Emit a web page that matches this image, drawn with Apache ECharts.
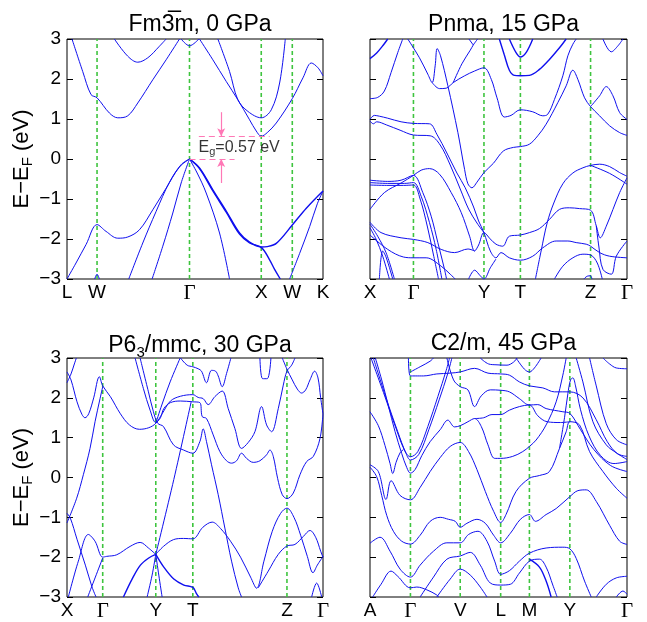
<!DOCTYPE html>
<html>
<head>
<meta charset="utf-8">
<script src="https://cdn.jsdelivr.net/npm/echarts@6/dist/echarts.min.js"></script>
<style>
  html, body { margin: 0; padding: 0; background: #fff; }
  #chart { width: 647px; height: 622px; }
</style>
</head>
<body>
<div id="chart"></div>
<script>
// ---------- Fm-3m, 0 GPa : path L-W-Γ-X-W-K ----------
const fm3mKpts = [0, 0.90, 3.67, 5.82, 6.75, 7.67];
const fm3mKlabels = ['L', 'W', 'Γ', 'X', 'W', 'K'];
const fm3mBands = [
  [[0.15,3.0],[0.47,2.19],[0.72,1.61],[0.90,1.53],[1.27,1.15],[1.52,1.03],[1.82,1.08],[2.12,1.40],[2.57,1.98],[2.97,2.48],[3.37,3.0]],
  [[1.42,3.0],[1.82,2.57],[2.12,2.42],[2.42,2.53],[2.77,2.82],[2.97,3.0]],
  [[3.42,3.0],[3.67,2.83],[3.95,3.0]],
  [[3.97,3.0],[4.37,2.48],[4.77,1.94],[5.12,1.48],[5.47,0.98],[5.67,0.7],[5.82,0.57],[6.0,0.66],[6.27,0.9],[6.75,1.51],[7.07,2.03],[7.32,2.40],[7.52,2.28],[7.67,2.08]],
  [[4.52,3.0],[4.87,2.19],[5.12,1.48],[5.42,1.19],[5.82,1.03],[6.12,1.23],[6.37,1.9],[6.54,3.0]],
  [[0,-3.0],[0.27,-2.6],[0.57,-2.14],[0.90,-1.64],[1.17,-1.81],[1.52,-1.98],[1.82,-1.95],[2.17,-1.77],[2.57,-1.27],[2.97,-0.73],[3.37,-0.2],[3.67,0]],
  [[1.85,-3.0],[2.27,-2.1],[2.67,-1.31],[3.07,-0.58],[3.42,-0.14],[3.67,0]],
  [[2.55,-3.0],[2.87,-2.18],[3.17,-1.35],[3.42,-0.6],[3.67,0]],
  [[3.67,0],[3.9,-0.35],[4.17,-0.85],[4.57,-1.85],[4.87,-3.0]],
  [[3.67,0],[3.97,-0.22],[4.37,-0.77],[4.77,-1.3],[5.17,-1.85],[5.47,-2.08],[5.82,-2.2],[6.0,-2.19],[6.27,-2.11],[6.75,-1.65],[7.17,-1.23],[7.67,-0.8]],
  [[3.67,0],[3.97,-0.24],[4.37,-0.8],[4.77,-1.33],[5.17,-1.88],[5.47,-2.1],[5.82,-2.21],[6.07,-2.52],[6.22,-2.76],[6.39,-3.0]],
  [[6.67,-3.0],[6.97,-2.36],[7.27,-1.69],[7.5,-1.12],[7.67,-0.8]],
  [[0.83,-3.0],[0.90,-2.88],[0.97,-3.0]]
];
const fm3mThick = [9, 10];

// band-gap annotation (eV)
const gapEg = 0.57;
const vbmE = 0;

// ---------- Pnma, 15 GPa : path X-Γ-Y-T-Z-Γ ----------
const pnmaKpts = [0, 1.30, 3.41, 4.50, 6.60, 7.69];
const pnmaKlabels = ['X', 'Γ', 'Y', 'T', 'Z', 'Γ'];
const pnmaBands = [
  [[0,2.51],[0.2,2.65],[0.4,2.85],[0.53,3.0]],
  [[0,1.51],[0.23,1.54],[0.43,1.7],[0.63,2.16],[0.83,2.66],[0.98,3.0]],
  [[1.13,3.0],[1.48,2.53],[1.73,2.12],[1.86,1.91],[1.95,2.33],[2.01,2.76],[2.11,2.58],[2.33,1.83],[2.63,0.66],[2.83,-0.26],[2.93,-0.62],[3.05,-0.72],[3.2,-0.58],[3.41,-0.34],[3.69,-0.11],[3.99,0.2],[4.29,0.29],[4.5,0.31],[4.77,0.37],[5.02,0.58],[5.27,0.87],[5.62,1.41],[5.87,1.83],[6.07,2.22],[6.22,1.99],[6.42,1.53],[6.6,1.31],[6.87,1.08],[7.17,0.83],[7.47,0.66],[7.69,0.59]],
  [[1.86,1.91],[2.08,1.76],[2.28,1.77],[2.49,1.91],[2.83,2.08],[3.13,2.2],[3.41,2.28],[3.63,1.99],[3.8,1.53],[4.02,1.05],[4.22,1.09],[4.5,1.23],[4.87,1.18],[5.17,1.08],[5.32,1.12],[5.52,1.49],[5.77,2.08],[5.92,2.58],[6.07,2.87],[6.17,3.0]],
  [[2.49,1.91],[2.75,2.38],[3.0,2.72],[3.09,2.85],[3.22,3.0]],
  [[2.96,3.0],[3.09,2.85]],
  [[4.17,3.0],[4.37,2.66],[4.5,2.55],[4.67,2.66],[4.87,3.0]],
  [[3.87,3.0],[4.02,2.6],[4.17,2.22],[4.32,2.09],[4.5,2.08],[4.77,2.09],[5.07,2.24],[5.37,2.49],[5.67,2.78],[5.87,3.0]],
  [[6.6,1.31],[6.87,1.58],[7.07,1.81],[7.27,1.58],[7.47,1.16],[7.69,0.99]],
  [[6.97,3.0],[7.22,2.68],[7.42,2.83],[7.57,3.0]],
  [[0,0.99],[0.13,1.09],[0.28,1.07],[0.53,1.02],[0.93,0.93],[1.3,0.89],[1.78,0.88],[2.0,0.62],[2.3,0.15],[2.6,-0.35],[2.85,-0.72],[3.1,-1.2],[3.25,-1.55],[3.41,-1.84],[3.6,-2.3],[3.77,-2.47],[3.92,-2.34],[4.17,-2.47],[4.5,-2.53],[4.87,-2.43],[5.17,-2.22],[5.57,-2.05],[5.92,-2.05],[6.17,-2.09],[6.47,-2.13],[6.6,-2.18],[6.87,-2.34],[7.17,-2.43],[7.69,-2.47]],
  [[0,0.95],[0.1,0.88],[0.2,0.93],[0.5,0.85],[0.9,0.72],[1.3,0.6],[1.8,0.58],[2.1,0.35],[2.4,-0.15],[2.7,-0.75],[2.95,-1.25],[3.2,-1.6],[3.41,-1.84]],
  [[0,-1.26],[0.43,-0.84],[0.93,-0.6],[1.3,-0.41],[1.53,-0.28],[1.78,-0.24],[2.08,-0.38],[2.43,-0.84],[2.73,-1.34],[2.98,-1.93],[3.13,-2.3],[3.25,-2.15],[3.41,-1.84],[3.6,-2.0],[3.77,-2.13],[3.97,-2.18],[4.17,-1.93],[4.5,-1.9],[4.77,-1.84],[5.07,-1.74],[5.37,-1.51],[5.67,-1.26],[5.97,-1.22],[6.27,-1.24],[6.6,-1.28],[6.77,-1.67],[6.89,-1.97],[7.07,-1.68],[7.27,-1.26],[7.47,-0.84],[7.69,-0.47]],
  [[4.95,-3.0],[5.12,-2.3],[5.3,-1.6],[5.5,-1.1],[5.77,-0.62],[6.07,-0.35],[6.37,-0.22],[6.6,-0.16],[6.87,-0.13],[7.17,-0.19],[7.47,-0.34],[7.69,-0.43]],
  [[6.6,-0.16],[7.17,-0.36],[7.69,-0.63]],
  [[0,-0.53],[0.53,-0.56],[0.93,-0.53],[1.3,-0.41],[1.58,-0.84],[1.83,-1.43],[2.03,-2.09],[2.23,-2.76],[2.29,-3.0]],
  [[0,-0.59],[0.53,-0.61],[1.03,-0.61],[1.3,-0.59],[1.53,-0.93],[1.78,-1.59],[1.98,-2.26],[2.15,-3.0]],
  [[0,-0.65],[0.5,-0.66],[1.0,-0.66],[1.3,-0.65],[1.5,-1.0],[1.72,-1.7],[1.9,-2.4],[2.05,-3.0]],
  [[0,-1.63],[0.23,-1.93],[0.48,-2.34],[0.73,-3.0]],
  [[0,-1.72],[0.18,-2.0],[0.38,-2.43],[0.58,-3.0]],
  [[0,-1.58],[0.33,-1.84],[0.93,-1.97],[1.3,-2.01],[1.73,-2.09],[2.13,-2.26],[2.53,-2.34],[2.93,-2.25],[3.13,-2.3]],
  [[0,-1.9],[0.53,-2.26],[1.0,-2.45],[1.3,-2.47],[1.68,-2.47],[2.13,-2.68],[2.4,-2.88],[2.55,-3.0]],
  [[0.28,-3.0],[0.38,-2.3],[0.48,-2.45],[0.68,-3.0]],
  [[2.95,-3.0],[3.13,-2.78],[3.3,-2.92],[3.41,-3.0],[3.6,-2.72],[3.77,-2.5]],
  [[5.52,-3.0],[5.77,-2.68],[6.07,-2.47],[6.37,-2.38],[6.6,-2.4],[6.8,-2.6],[6.95,-3.0]],
  [[6.4,-3.0],[6.5,-2.93],[6.6,-2.92],[6.64,-3.0]],
  [[6.77,-1.67],[6.85,-2.2],[6.97,-2.76],[7.22,-2.88],[7.37,-2.43],[7.69,-2.05]]
];
const pnmaThick = [0, 6, 7];

// ---------- P6_3/mmc, 30 GPa : path X-Γ-Y-T-Z-Γ ----------
const p63Kpts = [0, 1.07, 2.66, 3.77, 6.59, 7.67];
const p63Klabels = ['X', 'Γ', 'Y', 'T', 'Z', 'Γ'];
const p63Bands = [
  [[0,2.65],[0.12,2.45],[0.3,1.9],[0.45,1.58],[0.54,1.5],[0.65,1.6],[0.8,2.0],[0.97,2.53],[1.07,2.3],[1.3,2.03],[1.6,1.6],[1.87,1.32],[2.17,1.21],[2.45,1.25],[2.66,1.36],[2.85,1.6],[3.1,1.92],[3.4,2.04],[3.77,2.08],[3.93,2.01],[4.08,1.98],[4.23,1.83],[4.43,2.03],[4.65,2.17],[4.83,1.73],[5.03,1.23],[5.23,0.73],[5.43,0.88],[5.63,1.15],[5.83,1.78],[5.98,1.32],[6.13,1.15],[6.33,1.73],[6.48,2.32],[6.59,2.67],[6.73,2.82],[6.83,3.0]],
  [[0,2.38],[0.12,2.6],[0.22,2.85],[0.28,3.0]],
  [[2.04,3.0],[2.29,2.23],[2.49,1.69],[2.66,1.38],[2.8,1.5],[2.9,1.73],[3.1,1.88],[3.4,1.92],[3.77,1.9],[3.98,1.88],[4.05,1.53],[4.18,1.48],[4.38,1.07],[4.58,0.65],[4.78,0.42],[4.93,0.36],[5.08,0.42],[5.23,0.61],[5.38,0.48],[5.58,0.38],[5.78,0.42],[5.98,0.57],[6.08,0.69],[6.18,0.53],[6.31,-0.02],[6.45,-0.43],[6.59,-0.53],[6.78,-0.39],[6.98,0.07],[7.18,0.4],[7.38,0.53],[7.58,0.98],[7.67,1.6]],
  [[2.19,3.0],[2.44,2.15],[2.59,1.65],[2.72,1.36],[2.89,1.28],[3.19,0.82],[3.49,0.69],[3.77,0.61],[3.98,0.9],[4.08,1.22],[4.18,0.9],[4.33,0.32],[4.53,-0.43],[4.73,-1.27],[4.93,-2.1],[5.13,-2.77],[5.23,-3.0]],
  [[2.66,1.36],[2.84,1.82],[3.09,2.4],[3.39,3.0]],
  [[6.45,3.0],[6.59,2.72],[6.75,2.45],[6.9,2.22],[7.03,2.12],[7.15,2.2],[7.28,2.45],[7.42,2.67],[7.52,2.5],[7.6,2.0],[7.67,1.6]],
  [[3.4,3.0],[3.6,2.82],[3.77,2.78],[3.93,2.73],[4.03,2.67],[4.18,2.38],[4.33,2.69],[4.45,2.67],[4.53,2.55],[4.65,2.28],[4.78,2.61],[4.91,3.0]],
  [[5.78,3.0],[5.86,2.48],[6.0,2.48],[6.11,3.0]],
  [[0,-1.14],[0.29,-0.52],[0.49,0.07],[0.69,0.73],[0.84,1.4],[0.99,1.98],[1.07,2.28]],
  [[0,-0.9],[0.1,-1.02],[0.3,-1.55],[0.55,-2.2],[0.75,-2.75],[0.87,-3.0]],
  [[0.04,-3.0],[0.34,-2.1],[0.64,-1.43],[0.84,-1.6],[1.07,-2.0],[1.19,-1.98],[1.49,-1.94],[1.89,-1.73],[2.19,-1.63],[2.44,-1.77],[2.66,-1.93]],
  [[0.62,-3.0],[0.85,-2.5],[1.07,-2.02]],
  [[1.69,-3.0],[1.95,-2.55],[2.2,-2.2],[2.45,-2.02],[2.66,-1.93]],
  [[2.66,-1.93],[2.9,-2.25],[3.2,-2.55],[3.5,-2.7],[3.77,-2.76],[3.87,-2.9],[3.95,-3.0]],
  [[2.4,-3.0],[2.55,-2.45],[2.66,-1.93]],
  [[2.66,-1.93],[2.75,-2.45],[2.85,-3.0]],
  [[2.66,-1.93],[3.2,-0.05],[3.72,1.9]],
  [[2.66,-1.93],[2.89,-1.73],[3.19,-1.56],[3.49,-1.53],[3.77,-1.54],[4.07,-1.25],[4.35,-1.12],[4.6,-1.28],[4.9,-1.6],[5.2,-2.0],[5.5,-2.5],[5.68,-2.78],[5.9,-2.1],[6.15,-1.35],[6.4,-0.9],[6.59,-0.77],[6.8,-1.0],[7.0,-1.45],[7.2,-1.98],[7.37,-2.39],[7.5,-2.2],[7.67,-1.98]],
  [[5.73,-2.77],[6.03,-2.35],[6.33,-1.93],[6.59,-1.72],[6.83,-1.68],[7.08,-1.48],[7.28,-1.33],[7.45,-1.5],[7.6,-1.85],[7.67,-2.0]],
  [[7.33,-3.0],[7.48,-2.65],[7.63,-3.0]]
];
const p63Thick = [12, 13];

// ---------- C2/m, 45 GPa : path A-Γ-V-L-M-Y-Γ ----------
const c2mKpts = [0, 1.21, 2.70, 3.91, 4.77, 5.98, 7.69];
const c2mKlabels = ['A', 'Γ', 'V', 'L', 'M', 'Y', 'Γ'];
const c2mBands = [
  [[0.03,3.0],[0.43,2.07],[0.78,1.23],[1.03,0.69],[1.21,0.52],[1.43,0.65],[1.73,1.28],[2.03,2.03],[2.28,2.69],[2.38,3.0]],
  [[0.1,3.0],[0.48,2.0],[0.83,1.15],[1.08,0.6],[1.21,0.44],[1.46,0.58],[1.76,1.2],[2.07,1.95],[2.33,2.62],[2.45,3.0]],
  [[0.16,3.0],[0.35,2.45],[0.55,1.8],[0.75,1.15],[0.95,0.6],[1.1,0.25],[1.21,0.11],[1.35,0.2],[1.55,0.55],[1.8,0.9],[2.1,1.2],[2.33,1.44],[2.53,1.27],[2.7,1.3],[2.93,1.4],[3.13,1.48],[3.33,1.28],[3.53,0.82],[3.73,0.48],[3.91,0.48],[4.27,0.53],[4.57,0.65],[4.77,0.78],[4.97,0.94],[5.27,1.32],[5.57,1.9],[5.77,2.57],[5.87,3.0]],
  [[0,1.65],[0.25,1.3],[0.45,0.8],[0.6,0.35],[0.68,0.1],[0.78,0.38],[0.9,0.62],[1.0,0.7]],
  [[0,0.32],[0.25,0.15],[0.48,-0.55],[0.63,-0.08],[0.9,-0.45],[1.21,-0.56],[1.5,-0.25],[1.8,0.15],[2.1,0.5],[2.4,0.78],[2.7,0.88],[2.95,0.65],[3.2,0.2],[3.45,-0.35],[3.7,-0.85],[3.91,-1.13],[4.07,-0.93],[4.37,-0.35],[4.77,-0.02],[5.07,0.05],[5.37,0.15],[5.67,0.73],[5.87,1.15],[5.98,1.4],[6.27,1.32],[6.57,0.65],[6.97,0.15],[7.37,-0.27],[7.69,-0.52]],
  [[0,0.26],[0.2,0.02],[0.35,-0.45],[0.5,-0.95],[0.7,-1.35],[0.95,-1.6],[1.21,-1.67],[1.5,-1.45],[1.8,-1.1],[2.1,-1.0],[2.35,-1.05],[2.55,-1.1],[2.7,-1.25],[2.9,-1.15],[3.2,-1.05],[3.45,-1.15],[3.7,-1.45],[3.91,-1.64],[4.2,-1.4],[4.5,-1.05],[4.77,-0.93],[4.95,-1.1],[5.27,-0.93],[5.57,-0.78],[5.98,-0.48],[6.22,-0.33],[6.47,-0.31],[6.77,-0.6],[7.17,-1.2],[7.47,-1.6],[7.69,-1.68]],
  [[0,-1.65],[0.3,-1.5],[0.6,-1.85],[0.9,-2.3],[1.21,-2.5],[1.5,-2.2],[1.9,-1.85],[2.3,-1.64],[2.7,-1.64],[2.95,-1.43],[3.23,-1.35],[3.5,-1.6],[3.73,-2.1],[3.91,-2.43],[4.17,-2.34],[4.47,-2.1],[4.77,-1.9],[5.27,-1.77],[5.77,-1.75],[5.98,-1.79],[6.17,-2.03],[6.42,-2.6],[6.62,-3.0]],
  [[1.15,3.0],[1.21,2.55],[1.6,2.55],[2.0,2.6],[2.4,2.62],[2.7,2.65],[3.13,2.74],[3.53,2.62],[3.91,2.6],[4.17,2.57],[4.47,2.4],[4.77,2.3],[5.17,2.25],[5.52,2.15],[5.98,2.15],[6.37,2.0],[6.77,1.45],[7.1,0.9],[7.4,0.6],[7.69,0.53]],
  [[1.21,2.65],[1.5,2.78],[1.8,2.92],[1.9,3.0]],
  [[2.3,3.0],[2.5,2.45],[2.7,2.28],[2.93,2.2],[3.13,1.78],[3.33,2.05],[3.6,2.2],[3.91,2.19],[4.17,2.15],[4.47,1.98],[4.77,1.82],[5.02,1.83],[5.27,1.73],[5.77,1.65],[5.98,1.61],[6.3,1.2],[6.7,0.7],[7.2,0.3],[7.69,0.15]],
  [[3.3,3.0],[3.55,2.85],[3.77,2.83],[4.1,2.82],[4.3,2.9],[4.4,3.0]],
  [[4.37,3.0],[4.62,2.72],[4.77,2.65],[4.92,2.75],[5.12,3.0]],
  [[5.67,0.73],[5.82,1.5],[5.92,2.1],[6.0,2.45],[6.07,2.5],[6.15,2.3],[6.3,1.7],[6.55,1.05],[6.9,0.55],[7.3,0.35],[7.69,0.4]],
  [[6.17,3.0],[6.37,2.4],[6.67,1.4],[7.07,0.82],[7.37,0.62],[7.69,0.45]],
  [[6.57,3.0],[6.77,2.3],[7.07,1.35],[7.37,0.95],[7.69,0.82]],
  [[6.97,3.0],[7.17,2.85],[7.37,2.75],[7.69,2.73]],
  [[0.08,-3.0],[0.33,-2.68],[0.63,-2.35],[0.83,-2.48],[1.21,-2.77],[1.4,-2.75],[1.7,-2.82],[2.0,-2.95],[2.05,-3.0]],
  [[1.5,-3.0],[1.9,-2.5],[2.3,-2.05],[2.7,-1.97],[3.0,-1.88],[3.3,-2.2],[3.6,-2.65],[3.91,-2.7],[4.2,-2.68],[4.47,-2.4],[4.77,-2.1],[5.07,-2.05],[5.27,-2.25],[5.47,-2.7],[5.6,-3.0]],
  [[4.77,-2.05],[5.07,-2.25],[5.27,-2.6],[5.42,-3.0]],
  [[2.0,-3.0],[2.4,-2.55],[2.7,-2.3],[3.0,-2.45],[3.3,-2.75],[3.5,-3.0]],
  [[6.77,-3.0],[7.07,-2.68],[7.37,-2.52],[7.69,-2.48]],
  [[7.37,-3.0],[7.57,-2.85],[7.69,-2.93]],
  [[3.13,1.48],[3.4,1.5],[3.65,1.58],[3.91,1.58],[4.17,1.69],[4.47,1.78],[4.77,1.82],[5.02,1.55],[5.3,1.4],[5.7,1.38],[5.98,1.4]]
];
const c2mThick = [18];

// ---------- layout and styling ----------
const BAND_COLOR = '#0f0fee';
const SYM_COLOR = '#3ec43e';
const PINK = '#ff78b6';
const panels = [
  { bands: fm3mBands, thick: fm3mThick, kpts: fm3mKpts, klabels: fm3mKlabels,
    grid: { left: 67, top: 39, width: 256, height: 240 }, yLabels: true },
  { bands: pnmaBands, thick: pnmaThick, kpts: pnmaKpts, klabels: pnmaKlabels,
    grid: { left: 370, top: 39, width: 257, height: 240 }, yLabels: false },
  { bands: p63Bands, thick: p63Thick, kpts: p63Kpts, klabels: p63Klabels,
    grid: { left: 67, top: 358, width: 256, height: 240 }, yLabels: true },
  { bands: c2mBands, thick: c2mThick, kpts: c2mKpts, klabels: c2mKlabels,
    grid: { left: 370, top: 358, width: 257, height: 240 }, yLabels: false }
];
const titles = [
  'Fm3\u0305m, 0 GPa',
  'Pnma, 15 GPa',
  '{t|P6}{s|3}{t|/mmc, 30 GPa}',
  'C2/m, 45 GPa'
];

const FONT = 'Liberation Sans, Arial, Helvetica, sans-serif';
const SERIF = 'Liberation Serif, DejaVu Serif, serif';

const grids = [], xAxes = [], yAxes = [], series = [], titleComps = [];

panels.forEach((p, i) => {
  grids.push(Object.assign({ show: true, borderColor: '#000', borderWidth: 1,
    backgroundColor: '#fff', containLabel: false }, p.grid));

  const kmax = p.kpts[p.kpts.length - 1];
  xAxes.push({
    type: 'value', gridIndex: i, min: 0, max: kmax,
    axisLine: { show: false }, axisTick: { show: false }, splitLine: { show: false },
    axisLabel: {
      customValues: p.kpts, margin: 4, fontSize: 19, color: '#000', fontFamily: FONT,
      showMinLabel: true, showMaxLabel: true, hideOverlap: false,
      formatter: (v) => {
        let idx = 0, best = 1e9;
        p.kpts.forEach((k, j) => { const d = Math.abs(k - v); if (d < best) { best = d; idx = j; } });
        const lab = p.klabels[idx];
        return lab === 'Γ' ? '{g|Γ}' : lab;
      },
      rich: { g: { fontFamily: SERIF, fontSize: 21, color: '#000' } }
    }
  });

  const yCommon = {
    type: 'value', gridIndex: i, min: -3, max: 3, interval: 1,
    axisLine: { show: false }, splitLine: { show: false },
    axisTick: { show: true, inside: true, length: 6, lineStyle: { color: '#000', width: 1 } }
  };
  yAxes.push(Object.assign({}, yCommon, {
    position: 'left',
    axisLabel: { show: p.yLabels, margin: 6, fontSize: 19, color: '#000', fontFamily: FONT,
      formatter: (v) => String(v).replace('-', '\u2212') },
    name: p.yLabels ? '{e|E\u2212E}{s|F}{e| (eV)}' : '',
    nameLocation: 'middle', nameRotate: 90, nameGap: 31,
    nameTextStyle: {
      rich: {
        e: { fontSize: 22, fontFamily: FONT, color: '#000' },
        s: { fontSize: 15, fontFamily: FONT, color: '#000', padding: [12, 0, 0, 0] }
      }
    }
  }));
  yAxes.push(Object.assign({}, yCommon, { position: 'right', axisLabel: { show: false } }));

  // dashed guide lines at the interior high-symmetry points
  p.kpts.slice(1, -1).forEach(k => {
    series.push({
      type: 'line', xAxisIndex: i, yAxisIndex: 2 * i, data: [[k, -3], [k, 3]],
      symbol: 'none', showSymbol: false, silent: true, z: 1, animation: false,
      color: SYM_COLOR,
      lineStyle: { color: SYM_COLOR, type: [4, 3], width: 1.6 }
    });
  });

  p.bands.forEach((b, j) => {
    series.push({
      type: 'line', xAxisIndex: i, yAxisIndex: 2 * i, data: b,
      symbol: 'none', showSymbol: false, smooth: 0.35, silent: true, z: 3,
      color: BAND_COLOR,
      lineStyle: { color: BAND_COLOR, width: p.thick.includes(j) ? 1.4 : 1 },
      clip: true, animation: false
    });
  });

  titleComps.push({
    text: titles[i],
    left: p.grid.left + p.grid.width / 2, textAlign: 'center',
    top: p.grid.top - 31,
    textStyle: {
      fontSize: 23, fontWeight: 'normal', color: '#000', fontFamily: FONT,
      rich: {
        t: { fontSize: 23, fontFamily: FONT, color: '#000' },
        s: { fontSize: 15, fontFamily: FONT, color: '#000', padding: [13, 0, 0, 0] }
      }
    }
  });
});

// band-gap marker on the Fm-3m panel
series.push({
  type: 'line', xAxisIndex: 0, yAxisIndex: 0, data: [], silent: true, z: 4,
  color: PINK,
  markLine: {
    silent: true, animation: false, label: { show: false },
    symbol: ['none', 'none'],
    lineStyle: { color: PINK, type: [6, 4], width: 1.2 },
    data: [
      [{ coord: [3.95, gapEg] }, { coord: [6.07, gapEg] }],
      [{ coord: [3.67, vbmE] }, { coord: [5.02, vbmE] }]
    ]
  }
});
series.push({
  type: 'line', xAxisIndex: 0, yAxisIndex: 0, data: [], silent: true, z: 4,
  color: PINK,
  markLine: {
    silent: true, animation: false, label: { show: false },
    symbol: ['none', 'arrow'], symbolSize: [6, 8],
    lineStyle: { color: PINK, type: 'solid', width: 1.2 },
    data: [
      [{ coord: [4.62, gapEg + 0.6] }, { coord: [4.62, gapEg] }],
      [{ coord: [4.62, vbmE - 0.6] }, { coord: [4.62, vbmE] }]
    ]
  }
});
series.push({
  type: 'scatter', xAxisIndex: 0, yAxisIndex: 0, silent: true, z: 5,
  symbolSize: 0, data: [[3.94, (gapEg + vbmE) / 2]],
  label: {
    show: true, position: 'right', distance: 0,
    formatter: '{a|E}{b|g}{a|=' + gapEg.toFixed(2) + ' eV}',
    rich: {
      a: { fontSize: 16, fontFamily: FONT, color: '#000' },
      b: { fontSize: 11, fontFamily: FONT, color: '#000', padding: [9, 0, 0, 0] }
    }
  }
});

const chart = echarts.init(document.getElementById('chart'), null, { renderer: 'canvas' });
chart.setOption({
  animation: false,
  backgroundColor: '#fff',
  title: titleComps,
  grid: grids,
  xAxis: xAxes,
  yAxis: yAxes,
  series: series
});
</script>
</body>
</html>
